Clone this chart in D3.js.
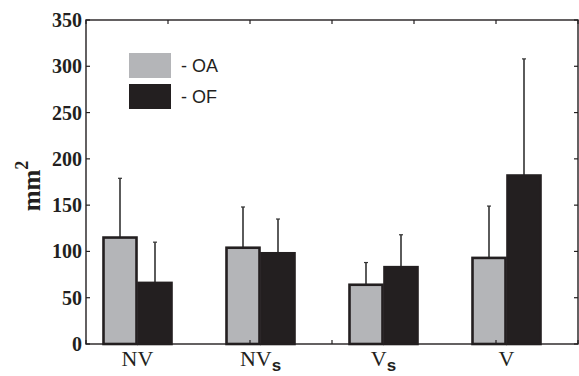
<!DOCTYPE html>
<html>
<head>
<meta charset="utf-8">
<script src="https://cdn.jsdelivr.net/npm/d3@7"></script>
<style>
  html, body { margin: 0; padding: 0; background: #fff; }
  svg { display: block; }
</style>
</head>
<body>
<svg id="chart" width="579" height="376"></svg>
<script>
// data
let categories = ['NV', 'NVs', 'Vs', 'V']
let seriesNames = ['OA', 'OF']
let meanOA = [115, 104, 64, 93]
let meanOF = [66, 98, 83, 182]
let errOA = [179, 148, 88, 149]   // top of error bar
let errOF = [110, 135, 118, 308]
let yTicks = [0, 50, 100, 150, 200, 250, 300, 350]
let xTicks = [0, 1, 2, 3, 4, 5, 6]

let colors = { OA: '#b4b5b8', OF: '#231f20' }
let edge = '#231f20'
let serif = '"Liberation Serif", "Times New Roman", serif'
let sans = '"Liberation Sans", Arial, sans-serif'

let svg = d3.select('#chart')
let pLeft = 86, pRight = 578, pTop = 20, pBottom = 344

let y = d3.scaleLinear().domain([0, 350]).range([pBottom, pTop])
let xTick = d3.scaleLinear().domain([0, 6]).range([pLeft, pRight])
let x0 = d3.scaleBand().domain(categories).range([76, 568])
let x1 = d3.scaleBand().domain(seriesNames).range([-35, 35])

let rows = categories.map((c, i) => ({
  cat: c,
  items: [
    { key: 'OA', mean: meanOA[i], err: errOA[i] },
    { key: 'OF', mean: meanOF[i], err: errOF[i] },
  ]
}))

let plot = svg.append('g')

let groups = plot.selectAll('g.grp')
  .data(rows)
  .join('g')
  .attr('class', 'grp')
  .attr('transform', d => `translate(${x0(d.cat) + x0.bandwidth() / 2},0)`)

// error bars (drawn first, bars cover the lower part)
groups.selectAll('g.err')
  .data(d => d.items)
  .join('g')
  .attr('class', 'err')
  .each(function (d) {
    let g = d3.select(this)
    let cx = x1(d.key) + x1.bandwidth() / 2
    g.append('line')
      .attr('x1', cx).attr('x2', cx)
      .attr('y1', y(d.mean)).attr('y2', y(d.err))
      .attr('stroke', '#333').attr('stroke-width', 1.6)
    g.append('line')
      .attr('x1', cx - 2).attr('x2', cx + 2)
      .attr('y1', y(d.err)).attr('y2', y(d.err))
      .attr('stroke', '#333').attr('stroke-width', 1.2)
  })

groups.selectAll('rect.bar')
  .data(d => d.items)
  .join('rect')
  .attr('class', 'bar')
  .attr('x', d => x1(d.key) + 1)
  .attr('width', x1.bandwidth() - 2)
  .attr('y', d => y(d.mean))
  .attr('height', d => pBottom - y(d.mean))
  .attr('fill', d => colors[d.key])
  .attr('stroke', edge)
  .attr('stroke-width', 2.6)

// frame
plot.append('rect')
  .attr('x', pLeft).attr('y', pTop)
  .attr('width', pRight - pLeft).attr('height', pBottom - pTop)
  .attr('fill', 'none').attr('stroke', edge).attr('stroke-width', 1.4)

// ticks on all four sides, pointing inward
let tk = 4
yTicks.forEach(v => {
  plot.append('line').attr('x1', pLeft).attr('x2', pLeft + tk)
    .attr('y1', y(v)).attr('y2', y(v)).attr('stroke', edge).attr('stroke-width', 1.2)
  plot.append('line').attr('x1', pRight).attr('x2', pRight - tk)
    .attr('y1', y(v)).attr('y2', y(v)).attr('stroke', edge).attr('stroke-width', 1.2)
})
xTicks.forEach(v => {
  plot.append('line').attr('x1', xTick(v)).attr('x2', xTick(v))
    .attr('y1', pTop).attr('y2', pTop + tk).attr('stroke', edge).attr('stroke-width', 1.2)
  plot.append('line').attr('x1', xTick(v)).attr('x2', xTick(v))
    .attr('y1', pBottom).attr('y2', pBottom - tk).attr('stroke', edge).attr('stroke-width', 1.2)
})

// y tick labels
svg.append('g').selectAll('text')
  .data(yTicks)
  .join('text')
  .attr('x', pLeft - 4)
  .attr('y', d => y(d))
  .attr('dy', '0.35em')
  .attr('text-anchor', 'end')
  .attr('font-family', serif)
  .attr('font-weight', 700)
  .attr('font-size', 20)
  .attr('fill', '#231f20')
  .text(d => d)

// y label
let yl = svg.append('text')
  .attr('transform', `translate(40,${(pTop + pBottom) / 2 + 4}) rotate(-90)`)
  .attr('text-anchor', 'middle')
  .attr('font-family', serif)
  .attr('font-weight', 700)
  .attr('font-size', 25)
  .attr('fill', '#231f20')
yl.append('tspan').text('mm')
yl.append('tspan').attr('dy', -12).attr('font-size', 18).text('2')

// category labels with subscript s
let catLabel = svg.append('g').selectAll('text')
  .data(categories)
  .join('text')
  .attr('x', d => x0(d) + x0.bandwidth() / 2)
  .attr('y', 366)
  .attr('text-anchor', 'middle')
  .attr('font-family', serif)
  .attr('font-size', 22)
  .attr('fill', '#231f20')
catLabel.each(function (d) {
  let t = d3.select(this)
  let base = d.endsWith('s') ? d.slice(0, -1) : d
  t.append('tspan').text(base)
  if (base !== d) {
    t.append('tspan')
      .attr('dy', 5)
      .attr('font-family', sans)
      .attr('font-weight', 700)
      .attr('font-size', 17)
      .text('s')
  }
})

// legend
let legend = svg.append('g').attr('transform', 'translate(129,53)')
let li = legend.selectAll('g')
  .data(seriesNames)
  .join('g')
  .attr('transform', (d, i) => `translate(0,${i * 31})`)
li.append('rect')
  .attr('width', 42).attr('height', 25)
  .attr('fill', d => colors[d])
li.append('text')
  .attr('x', 52).attr('y', 13)
  .attr('dy', '0.35em')
  .attr('font-family', sans)
  .attr('font-size', 18)
  .attr('fill', '#231f20')
  .text(d => '- ' + d)
</script>
</body>
</html>
